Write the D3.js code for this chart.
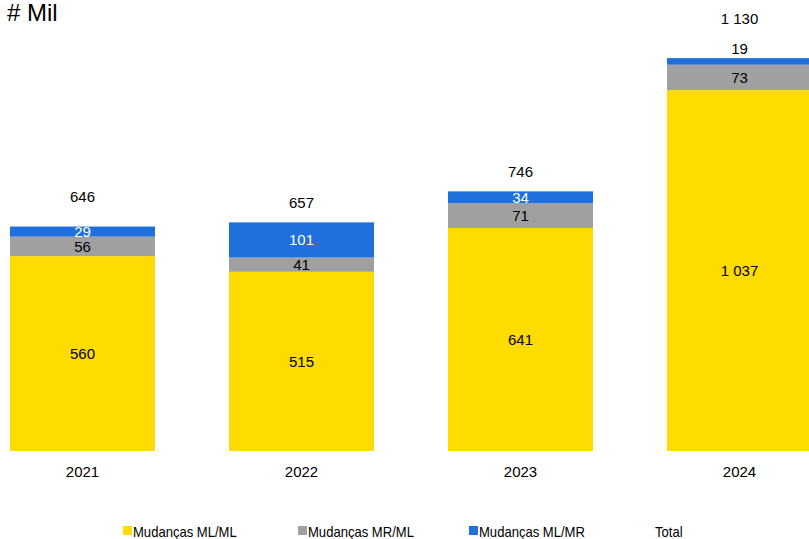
<!DOCTYPE html>
<html><head><meta charset="utf-8">
<script src="https://cdn.jsdelivr.net/npm/d3@7"></script>
<style>body{margin:0;background:#fff}svg{display:block;font-family:"Liberation Sans",Arial,sans-serif}</style>
</head><body>
<svg id="chart" width="809" height="539"></svg>
<script>
const years = ["2021","2022","2023","2024"];
const mlml = [560, 515, 641, 1037];
const mrml = [56, 41, 71, 73];
const mlmr = [29, 101, 34, 19];
const totals = [646, 657, 746, 1130];
const seriesNames = ["Mudanças ML/ML","Mudanças MR/ML","Mudanças ML/MR","Total"];
const colors = ["#FFDC00","#A0A0A0","#1F6FDD"];
const labelColors = ["#000","#000","#fff"];

const fmt = d3.formatLocale({decimal:",",thousands:"\u00a0",grouping:[3],currency:["",""]}).format(",d");
const svg = d3.select("#chart");
const x = d3.scaleBand().domain(years).range([10, 812]).paddingInner(0.338).paddingOuter(0);
const y = d3.scaleLinear().domain([0, 1200]).range([451, 33.4]);

const rows = years.map((yr,i)=>({year:yr, s0:mlml[i], s1:mrml[i], s2:mlmr[i]}));
const stack = d3.stack().keys(["s0","s1","s2"])(rows);

svg.append("text").attr("x",7).attr("y",21).attr("font-size",24).attr("fill","#000").text("# Mil");

const FS = 15;
stack.forEach((layer,k)=>{
  const g = svg.append("g");
  g.selectAll("rect").data(layer).enter().append("rect")
    .attr("x",d=>x(d.data.year)).attr("width",x.bandwidth())
    .attr("y",d=>y(d[1])).attr("height",d=>y(d[0])-y(d[1]))
    .attr("fill",colors[k]);
  g.selectAll("text").data(layer).enter().append("text")
    .attr("x",d=>x(d.data.year)+x.bandwidth()/2)
    .attr("y",d=>{const h=y(d[0])-y(d[1]); return h<8 ? y(d[1])-9 : (y(d[0])+y(d[1]))/2;})
    .attr("dy","0.35em").attr("text-anchor","middle").attr("font-size",FS)
    .attr("fill",d=>(y(d[0])-y(d[1]))<8 ? "#000" : labelColors[k])
    .text(d=>fmt(d[1]-d[0]));
});

// total labels: above the bar, pushed up when the top segment label crowds the top
const topLayer = stack[2];
svg.append("g").selectAll("text").data(years).enter().append("text")
  .attr("x",d=>x(d)+x.bandwidth()/2)
  .attr("y",(d,i)=>{
    const seg = topLayer[i], h = y(seg[0])-y(seg[1]);
    let off = 20;
    if (h < 8) off = 39; else if (h < 11) off = 29;
    return y(totals[i]) - off;
  })
  .attr("dy","0.35em").attr("text-anchor","middle").attr("font-size",FS).attr("fill","#000")
  .text((d,i)=>fmt(totals[i]));

const ax = svg.append("g").attr("transform","translate(0,451)")
  .call(d3.axisBottom(x).tickSize(0).tickPadding(15));
ax.select(".domain").remove();
ax.selectAll("text").attr("font-size",FS).attr("fill","#000").attr("font-family","Liberation Sans, Arial, sans-serif");

const legX = [123, 298, 469, 655];
const leg = svg.append("g");
seriesNames.forEach((n,i)=>{
  if(i<3) leg.append("rect").attr("x",legX[i]).attr("y",526).attr("width",9).attr("height",9).attr("fill",colors[i]);
  const t = leg.append("text").attr("x",i<3?legX[i]+10:legX[i]).attr("y",532).attr("dy","0.35em")
    .attr("font-size",14.5).attr("fill","#000").text(n);
  const w = t.node().getComputedTextLength();
  t.attr("textLength", w*0.9).attr("lengthAdjust","spacingAndGlyphs");
});
</script>
</body></html>
